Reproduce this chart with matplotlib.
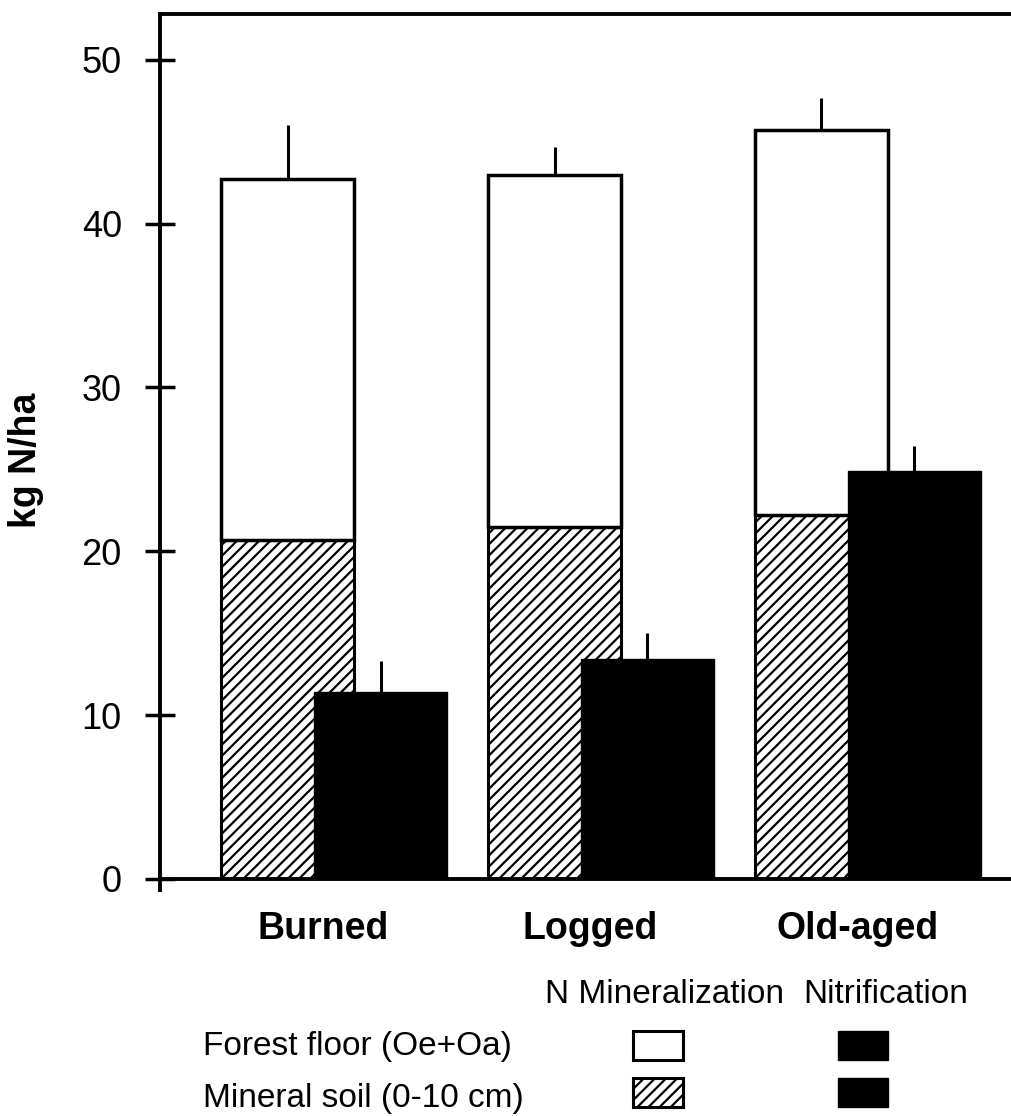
import numpy as np
import matplotlib
matplotlib.use("Agg")
import matplotlib.pyplot as plt
from matplotlib.patches import Rectangle

plt.rcParams['font.family'] = ['Liberation Sans', 'DejaVu Sans']
plt.rcParams['hatch.linewidth'] = 1.6

# Data (kg N/ha)
sites = ['Burned', 'Logged', 'Old-aged']
min_mineral_soil = [20.7, 21.5, 22.2]   # hatched part of N mineralization
min_forest_floor = [22.0, 21.5, 23.5]   # white part stacked on top
min_err = [3.3, 1.7, 2.0]
nitrification = [11.4, 13.4, 24.9]
nit_err = [1.9, 1.6, 1.5]
y_ticks = [0, 10, 20, 30, 40, 50]

legend_cols = ['N Mineralization', 'Nitrification']
legend_rows = ['Forest floor (Oe+Oa)', 'Mineral soil (0-10 cm)']

fig = plt.figure(figsize=(10.11, 11.16), dpi=100)
ax = fig.add_axes([0.1583, 0.2124, 0.8417, 0.7751])

x = np.arange(len(sites))
off = 0.174
w = 0.5
min_total = np.add(min_mineral_soil, min_forest_floor)

# N mineralization: mineral soil (hatched) + forest floor (white)
ax.bar(x - off, min_mineral_soil, w, color='white', edgecolor='black',
       hatch='///', linewidth=2.2, zorder=1)
ax.bar(x - off, min_forest_floor, w, bottom=min_mineral_soil, color='white',
       edgecolor='black', linewidth=2.5, zorder=1)
ax.errorbar(x - off, min_total, yerr=[np.zeros(3), min_err], fmt='none',
            ecolor='black', elinewidth=2.2, capsize=0, zorder=1.5)

# Nitrification (black), drawn over the mineralization bars
ax.errorbar(x + off, nitrification, yerr=[np.zeros(3), nit_err], fmt='none',
            ecolor='black', elinewidth=2.2, capsize=0, zorder=1.5)
ax.bar(x + off, nitrification, w, color='black', edgecolor='black',
       linewidth=1, zorder=2)

ax.set_xlim(-0.652, 2.536)
ax.set_ylim(0, 52.8)
ax.set_yticks(y_ticks)
ax.set_yticklabels([str(t) for t in y_ticks], fontsize=26)
ax.tick_params(axis='y', direction='inout', length=21, width=2.5, pad=17)
ax.set_xticks(x - 0.04)
ax.set_xticklabels(sites, fontsize=27, fontweight='bold')
ax.tick_params(axis='x', length=0, pad=23)

for s in ['left', 'top', 'bottom']:
    ax.spines[s].set_linewidth(2.8)
ax.spines['right'].set_visible(False)
ax.spines['left'].set_bounds(-0.65, 52.8)

fig.text(26 / 1011, 1 - 460 / 1116, 'kg N/ha', rotation=90, fontsize=27,
         fontweight='bold', ha='center', va='center')

# legend block
def fx(px):
    return px / 1011

def fy(py):
    return 1 - py / 1116

fig.text(fx(545), fy(1003), legend_cols[0], fontsize=24, va='baseline')
fig.text(fx(803), fy(1003), legend_cols[1], fontsize=24, va='baseline')
fig.text(fx(203), fy(1055), legend_rows[0], fontsize=24, va='baseline')
fig.text(fx(203), fy(1107), legend_rows[1], fontsize=24, va='baseline')

bw, bh = 50 / 1011, 29 / 1116
fig.add_artist(Rectangle((fx(633), fy(1060)), bw, bh, transform=fig.transFigure,
                         facecolor='white', edgecolor='black', linewidth=2.2))
fig.add_artist(Rectangle((fx(838), fy(1060)), bw, bh, transform=fig.transFigure,
                         facecolor='black', edgecolor='black', linewidth=1))
fig.add_artist(Rectangle((fx(633), fy(1107)), bw, bh, transform=fig.transFigure,
                         facecolor='white', edgecolor='black', hatch='///',
                         linewidth=2.2))
fig.add_artist(Rectangle((fx(838), fy(1107)), bw, bh, transform=fig.transFigure,
                         facecolor='black', edgecolor='black', linewidth=1))

fig.savefig('out.png', dpi=100)
